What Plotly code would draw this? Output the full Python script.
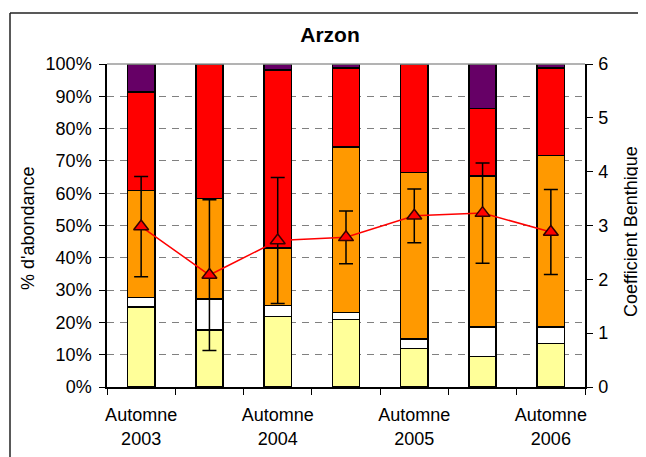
import plotly.graph_objects as go

categories = ["Automne 2003", "Printemps 2004", "Automne 2004", "Printemps 2005",
              "Automne 2005", "Printemps 2006", "Automne 2006"]
tick_labels = ["Automne<br>2003", "", "Automne<br>2004", "", "Automne<br>2005", "", "Automne<br>2006"]

# % abundance per group (bottom to top)
grp_yellow = [24.8, 17.6, 21.9, 20.9, 11.9, 9.5, 13.5]
grp_white = [2.9, 9.6, 3.4, 2.1, 2.9, 9.1, 5.1]
grp_orange = [33.1, 31.2, 17.8, 51.3, 51.6, 46.8, 53.0]
grp_red = [30.6, 41.6, 55.1, 24.5, 33.6, 20.8, 27.2]
grp_purple = [8.6, 0.0, 1.8, 1.2, 0.0, 13.8, 1.2]

# Coefficient benthique (right axis)
coef = [2.98, 2.08, 2.72, 2.78, 3.18, 3.23, 2.88]
coef_err = [0.93, 1.40, 1.17, 0.49, 0.50, 0.93, 0.79]

FONT = "Liberation Sans, Arial, sans-serif"

# page body has an 8px margin: the figure is drawn 8px in from the window corner
W, H = 638, 449
L, R, T, B = 99, 638 - 577, 56, 449 - 379
PW, PH = W - L - R, H - T - B


def px_x(x):
    return (x - 8 - L) / PW


def px_y(y):
    return (H - B - (y - 8)) / PH


fig = go.Figure()
for vals, col in [(grp_yellow, "#FFFF99"), (grp_white, "#FFFFFF"), (grp_orange, "#FF9900"),
                  (grp_red, "#FF0000"), (grp_purple, "#660066")]:
    fig.add_trace(go.Bar(x=categories, y=vals, marker=dict(color=col, line=dict(color="black", width=1.5)),
                         showlegend=False))

fig.add_trace(go.Scatter(
    x=categories, y=coef, yaxis="y2", mode="lines+markers",
    line=dict(color="#FF0000", width=1.5),
    marker=dict(symbol="triangle-up", size=13, color="#FF0000", line=dict(color="#330000", width=1.5)),
    error_y=dict(type="data", array=coef_err, visible=True, color="black", thickness=1.5, width=7),
    showlegend=False))

fig.update_layout(
    width=W, height=H,
    margin=dict(l=L, r=R, t=T, b=B, autoexpand=False),
    paper_bgcolor="white", plot_bgcolor="white",
    barmode="stack", bargap=0.6,
    font=dict(family=FONT, size=18, color="black"),
    title=dict(text="<b>Arzon</b>", x=(330 - 8) / W, xref="container",
               y=1 - (35 - 8) / H, yanchor="middle", xanchor="center", automargin=False,
               font=dict(family=FONT, size=21, color="black")),
    xaxis=dict(type="category", tickmode="array", tickvals=categories, ticktext=tick_labels,
               tickson="boundaries", ticks="outside", ticklen=6, tickcolor="black", tickangle=0,
               ticklabelstandoff=11,
               showline=True, linecolor="black", linewidth=1.5, showgrid=False, automargin=False,
               tickfont=dict(size=18), range=[-0.5, 6.5]),
    yaxis=dict(range=[0, 100], dtick=10, ticksuffix="%", ticks="outside", ticklen=6,
               tickcolor="black", showline=True, linecolor="black", linewidth=1.5, automargin=False,
               ticklabelstandoff=4,
               showgrid=True, gridcolor="#808080", gridwidth=1, griddash="7px,6px",
               zeroline=False, tickfont=dict(size=18)),
    yaxis2=dict(range=[0, 6], dtick=1, overlaying="y", side="right", ticks="outside", ticklen=6,
                tickcolor="black", showline=True, linecolor="black", linewidth=1.5, automargin=False,
                ticklabelstandoff=2,
                showgrid=False, zeroline=False, tickfont=dict(size=18)),
    shapes=[
        dict(type="line", xref="paper", yref="paper", x0=0, x1=1, y0=1, y1=1,
             line=dict(color="#9a9a9a", width=1.5)),
        dict(type="line", xref="paper", yref="paper", x0=px_x(10), x1=px_x(700),
             y0=px_y(13), y1=px_y(13), line=dict(color="#222222", width=1.5)),
        dict(type="line", xref="paper", yref="paper", x0=px_x(10), x1=px_x(10),
             y0=px_y(500), y1=px_y(13), line=dict(color="#222222", width=1.5)),
    ],
    annotations=[
        dict(text="% d'abondance", xref="paper", yref="paper", x=px_x(28), y=px_y(228),
             textangle=-90, showarrow=False, xanchor="center", yanchor="middle",
             font=dict(family=FONT, size=18)),
        dict(text="Coefficient Benthique", xref="paper", yref="paper", x=px_x(631), y=px_y(232),
             textangle=-90, showarrow=False, xanchor="center", yanchor="middle",
             font=dict(family=FONT, size=18)),
    ],
)

fig.write_html("out.html")
